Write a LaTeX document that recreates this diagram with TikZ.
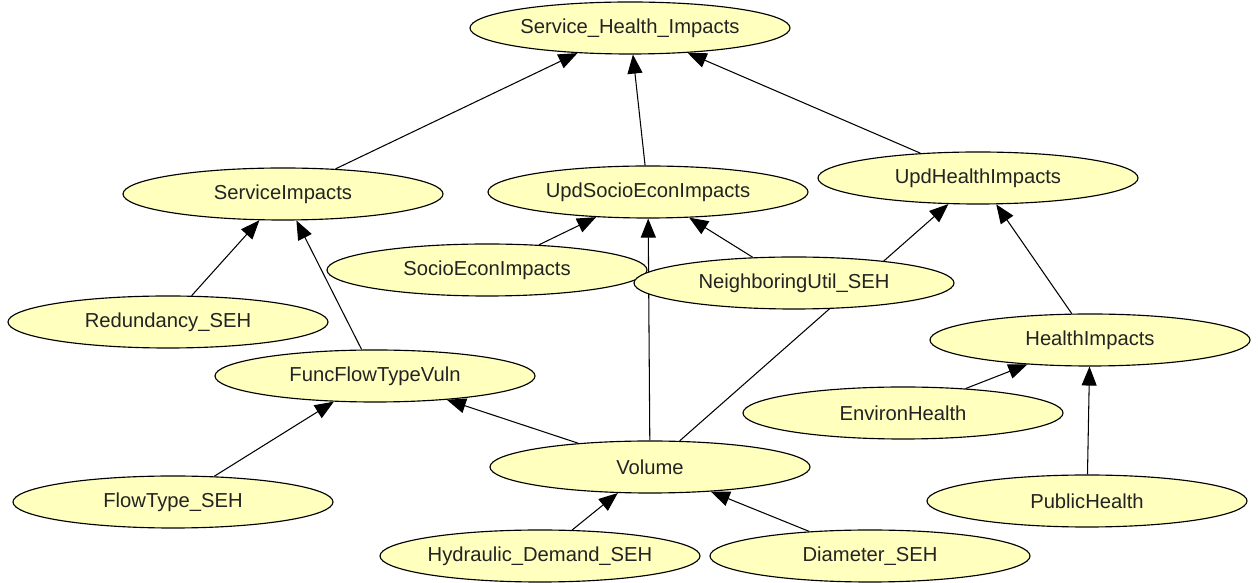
\documentclass[tikz,border=0pt]{standalone}
\usepackage{fontspec}
\setmainfont{Liberation Sans}
\usetikzlibrary{shapes.geometric, arrows.meta, backgrounds}
\definecolor{cNode}{RGB}{255,255,190}
\definecolor{cText}{RGB}{35,35,35}
\tikzset{
    varnode/.style  ={ellipse, draw=black, line width=0.65pt, fill=cNode, minimum width=6.4cm, minimum height=1.04cm, inner sep=0pt, text=cText, align=center},
    linkarrow/.style={-{Triangle[length=3.8mm, width=3mm]}, line width=0.6pt},
}

\begin{document}
\begin{tikzpicture}[font=\fontsize{11.5}{13}\selectfont, x=0.2mm, y=-0.2mm]
    \useasboundingbox (0,0) rectangle (1258,583);
    \node[varnode] (shi)  at (630,28)  {Service\_Health\_Impacts};
    \node[varnode] (si)   at (283,194) {ServiceImpacts};
    \node[varnode] (usei) at (648,192) {UpdSocioEconImpacts};
    \node[varnode] (uhi)  at (978,178) {UpdHealthImpacts};
    \node[varnode] (sei)  at (487,270) {SocioEconImpacts};
    \node[varnode] (nu)   at (794,283) {NeighboringUtil\_SEH};
    \node[varnode] (red)  at (168,322) {Redundancy\_SEH};
    \node[varnode] (hi)   at (1090,340) {HealthImpacts};
    \node[varnode] (fftv) at (375,376) {FuncFlowTypeVuln};
    \node[varnode] (eh)   at (903,413) {EnvironHealth};
    \node[varnode] (vol)  at (650,467) {Volume};
    \node[varnode] (ft)   at (173,502) {FlowType\_SEH};
    \node[varnode] (ph)   at (1087,501) {PublicHealth};
    \node[varnode] (hd)   at (540,556) {Hydraulic\_Demand\_SEH};
    \node[varnode] (dia)  at (870,556) {Diameter\_SEH};
    % links run behind the nodes
    \begin{scope}[on background layer]
        \draw[linkarrow] (si) -- (shi);
        \draw[linkarrow] (usei) -- (shi);
        \draw[linkarrow] (uhi) -- (shi);
        \draw[linkarrow] (red) -- (si);
        \draw[linkarrow] (fftv) -- (si);
        \draw[linkarrow] (sei) -- (usei);
        \draw[linkarrow] (vol) -- (usei);
        \draw[linkarrow] (nu) -- (usei);
        \draw[linkarrow] (vol) -- (uhi);
        \draw[linkarrow] (hi) -- (uhi);
        \draw[linkarrow] (ft) -- (fftv);
        \draw[linkarrow] (vol) -- (fftv);
        \draw[linkarrow] (eh) -- (hi);
        \draw[linkarrow] (ph) -- (hi);
        \draw[linkarrow] (hd) -- (vol);
        \draw[linkarrow] (dia) -- (vol);
    \end{scope}
\end{tikzpicture}
\end{document}
